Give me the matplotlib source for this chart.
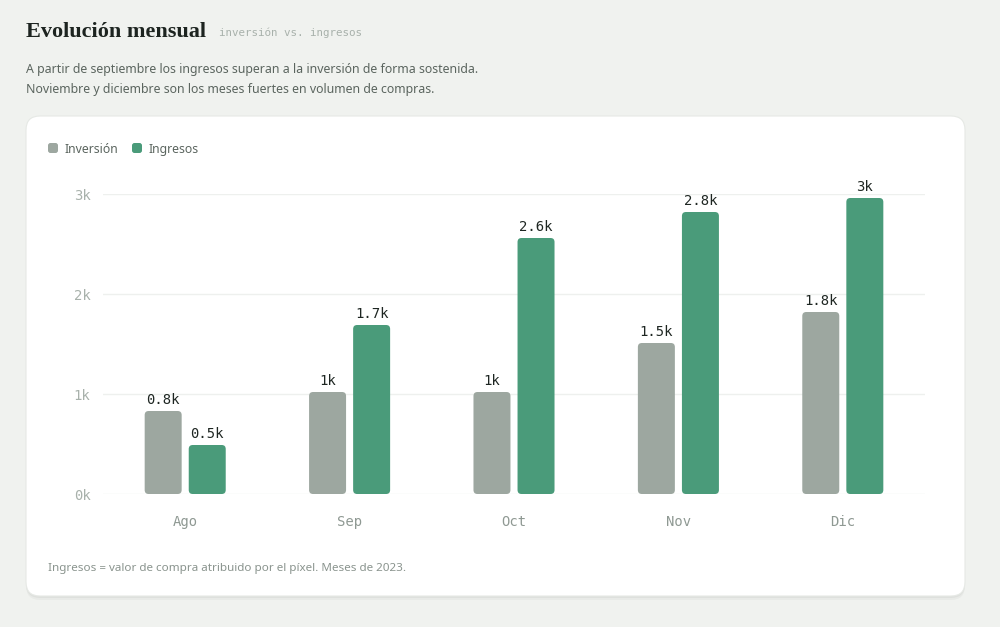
import matplotlib
matplotlib.use("Agg")
import matplotlib.pyplot as plt
from matplotlib.patches import FancyBboxPatch

# ---- data ----
months = ["Ago", "Sep", "Oct", "Nov", "Dic"]
inversion = [830, 1020, 1020, 1510, 1820]
ingresos = [490, 1690, 2560, 2820, 2960]
series_names = ["Inversión", "Ingresos"]
yticks = [0, 1000, 2000, 3000]
ytick_labels = ["0k", "1k", "2k", "3k"]

title = "Evolución mensual"
subtitle = "inversión vs. ingresos"
desc1 = "A partir de septiembre los ingresos superan a la inversión de forma sostenida."
desc2 = "Noviembre y diciembre son los meses fuertes en volumen de compras."
footnote = "Ingresos = valor de compra atribuido por el píxel. Meses de 2023."

# ---- style ----
BG = "#f0f2ef"
CARD = "#ffffff"
GRAY = "#9da7a0"
GREEN = "#4a9b7a"
DARK = "#1e2622"
TEXT = "#5b655f"
MUTED = "#a8b1ab"
MONO = ["DejaVu Sans Mono"]
SANS = ["Noto Sans", "DejaVu Sans"]
SERIF = ["Liberation Serif", "DejaVu Serif"]

W, H = 1000, 627
fig = plt.figure(figsize=(W / 100, H / 100), dpi=100, facecolor=BG)

def fx(px):
    return px / W

def fy(py):
    return 1 - py / H

# card shadow + card
for off, alpha in [(4, 0.03), (2, 0.04)]:
    sh = FancyBboxPatch((fx(26), fy(596 + off)), fx(965 - 26), (596 - 116) / H,
                        boxstyle="round,pad=0,rounding_size=0.014",
                        mutation_aspect=W / H, transform=fig.transFigure,
                        facecolor="#000000", alpha=alpha, edgecolor="none", zorder=0)
    fig.patches.append(sh)
card = FancyBboxPatch((fx(26), fy(596)), fx(965 - 26), (596 - 116) / H,
                      boxstyle="round,pad=0,rounding_size=0.014",
                      mutation_aspect=W / H, transform=fig.transFigure,
                      facecolor=CARD, edgecolor="#e6e9e5", linewidth=0.8, zorder=1)
fig.patches.append(card)

# header texts
fig.text(fx(26), fy(37), title, family=SERIF, fontweight="bold", fontsize=16,
         color="#1d2420", ha="left", va="baseline")
fig.text(fx(219), fy(36), subtitle, family=MONO, fontsize=7.8, color=MUTED,
         ha="left", va="baseline")
fig.text(fx(26), fy(73), desc1, family=SANS, fontsize=8.9, color=TEXT,
         ha="left", va="baseline")
fig.text(fx(26), fy(93), desc2, family=SANS, fontsize=8.9, color=TEXT,
         ha="left", va="baseline")
fig.text(fx(48), fy(571), footnote, family=SANS, fontsize=8.4, color="#8a948e",
         ha="left", va="baseline")

# legend
for i, (name, col) in enumerate(zip(series_names, [GRAY, GREEN])):
    x0 = [48, 132][i]
    sq = FancyBboxPatch((fx(x0), fy(153)), fx(10), 10 / H,
                        boxstyle="round,pad=0,rounding_size=0.0025",
                        mutation_aspect=W / H, transform=fig.transFigure,
                        facecolor=col, edgecolor="none", zorder=3)
    fig.patches.append(sq)
    fig.text(fx(x0 + 17), fy(148), name, family=SANS, fontsize=8.8, color=TEXT,
             ha="left", va="center_baseline", zorder=3)

# axes
ax = fig.add_axes([fx(103), fy(494), fx(925 - 103), (494 - 194) / H])
ax.set_facecolor("none")
ax.set_zorder(2)
ax.set_xlim(-0.5, len(months) - 0.5)
ax.set_ylim(0, 3000)
for s in ax.spines.values():
    s.set_visible(False)
ax.set_yticks(yticks)
ax.set_yticklabels(ytick_labels, family=MONO, fontsize=10, color=MUTED)
ax.set_xticks(range(len(months)))
ax.set_xticklabels(months, family=MONO, fontsize=10, color="#8f9993")
ax.tick_params(axis="both", length=0)
ax.tick_params(axis="y", pad=9)
ax.tick_params(axis="x", pad=15)
ax.grid(axis="y", color="#eef0ee", linewidth=1.0)
ax.set_axisbelow(True)

bw = 0.225
off = 0.134
x = list(range(len(months)))
bars1 = ax.bar([xi - off for xi in x], inversion, width=bw, color=GRAY)
bars2 = ax.bar([xi + off for xi in x], ingresos, width=bw, color=GREEN)

# x units per px and y units per px
xu = 5 / 822.0
yu = 3000 / 300.0
r_px = 4
for bars, col in [(bars1, GRAY), (bars2, GREEN)]:
    for b in bars:
        bx, by, bwid, bh = b.get_x(), b.get_y(), b.get_width(), b.get_height()
        b.set_visible(False)
        p = FancyBboxPatch((bx, by), bwid, bh,
                           boxstyle=f"round,pad=0,rounding_size={r_px * xu}",
                           mutation_aspect=yu / xu, facecolor=col, edgecolor="none",
                           zorder=3)
        ax.add_patch(p)

def fmt(v):
    s = f"{v / 1000:.1f}"
    if s.endswith(".0"):
        s = s[:-2]
    return s + "k"

for bars, vals in [(bars1, inversion), (bars2, ingresos)]:
    for b, v in zip(bars, vals):
        ax.annotate(fmt(v), (b.get_x() + b.get_width() / 2, v),
                    xytext=(0, 3), textcoords="offset points",
                    ha="center", va="bottom", family=MONO, fontsize=10,
                    color=DARK, annotation_clip=False, zorder=4)

fig.savefig("out.png", dpi=100, facecolor=BG)
